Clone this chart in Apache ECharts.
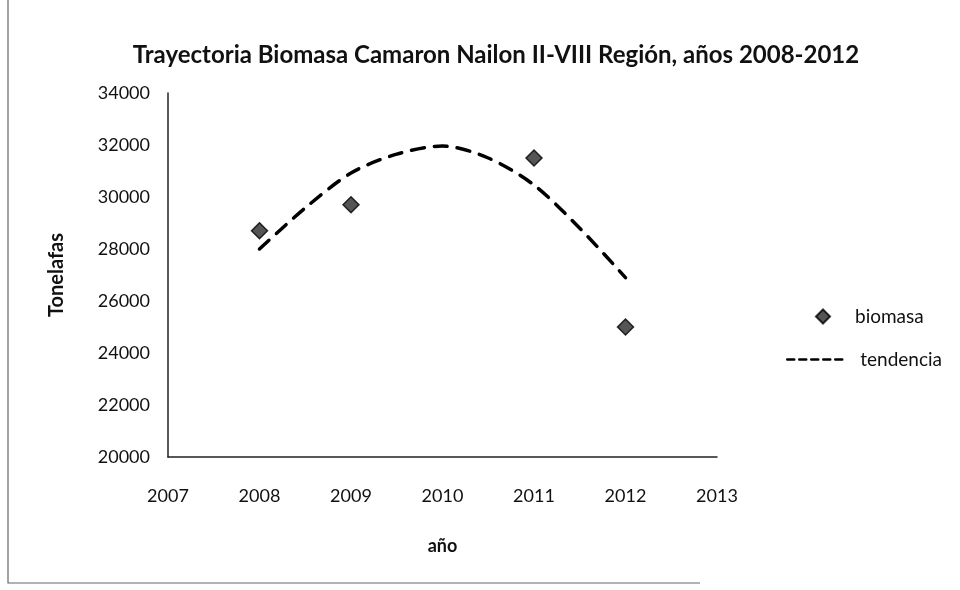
<!DOCTYPE html>
<html><head><meta charset="utf-8">
<script src="https://cdn.jsdelivr.net/npm/echarts@6/dist/echarts.min.js"></script>
<style>html,body{margin:0;padding:0;background:#fff}#c{width:960px;height:590px}</style>
</head><body><div id="c"></div>
<script>
const years = [2008, 2009, 2011, 2012];
const biomasa = [28700, 29700, 31500, 25000];
const trendYears = [2008, 2008.5, 2009, 2009.5, 2010, 2010.5, 2011, 2011.5, 2012];
const tendencia = [28000, 29580, 30920, 31650, 31960, 31500, 30460, 28800, 26900];
const yTicks = [20000, 22000, 24000, 26000, 28000, 30000, 32000, 34000];
const xTicks = [2007, 2008, 2009, 2010, 2011, 2012, 2013];

const FONT = 'Lato';
const chart = echarts.init(document.getElementById('c'));
chart.setOption({
  backgroundColor: '#fff',
  animation: false,
  title: {
    text: 'Trayectoria Biomasa Camaron Nailon II-VIII Región, años 2008-2012',
    left: 491, top: 38, textAlign: 'center',
    textStyle: {fontFamily: FONT, fontWeight: 'bold', fontSize: 24, color: '#111'}
  },
  grid: {left: 168, right: 243, top: 93, bottom: 133},
  xAxis: {
    type: 'value', min: xTicks[0], max: xTicks[xTicks.length-1], interval: 1,
    name: 'año', nameLocation: 'middle', nameGap: 80,
    nameTextStyle: {fontFamily: FONT, fontWeight: 'bold', fontSize: 18, color: '#111'},
    axisLine: {show: true, lineStyle: {color: '#222', width: 1.5}},
    axisTick: {show: false},
    splitLine: {show: false},
    axisLabel: {fontFamily: FONT, fontSize: 18, color: '#111', margin: 30, formatter: v => String(v)}
  },
  yAxis: {
    type: 'value', min: yTicks[0], max: yTicks[yTicks.length-1], interval: 2000,
    name: 'Tonelafas', nameLocation: 'middle', nameGap: 101, nameRotate: 90,
    nameTextStyle: {fontFamily: FONT, fontWeight: 'bold', fontSize: 20, color: '#111'},
    axisLine: {show: true, lineStyle: {color: '#222', width: 1.5}},
    axisTick: {show: false},
    splitLine: {show: false},
    axisLabel: {fontFamily: FONT, fontSize: 18, color: '#111', margin: 18, formatter: v => String(v)}
  },
  legend: [
    {
      orient: 'vertical', left: 810, top: 302,
      itemWidth: 14, itemHeight: 14, itemGap: 18,
      textStyle: {fontFamily: FONT, fontSize: 19, color: '#111', padding: [0, 0, 0, 20]},
      data: [{name: 'biomasa', icon: 'diamond'}]
    },
    {
      orient: 'vertical', left: 781, top: 345,
      itemWidth: 58, itemHeight: 12,
      textStyle: {fontFamily: FONT, fontSize: 19, color: '#111', padding: [0, 0, 0, 10]},
      data: [{name: 'tendencia', itemStyle: {opacity: 0}, lineStyle: {type: [7, 5], width: 2.5}}]
    }
  ],
  series: [
    {
      name: 'tendencia', type: 'line', smooth: 0.3, symbol: 'none',
      data: trendYears.map((x, i) => [x, tendencia[i]]),
      lineStyle: {color: '#000', width: 3.5, type: [13, 10], cap: 'round'},
      itemStyle: {color: '#000'}, z: 2
    },
    {
      name: 'biomasa', type: 'scatter', symbol: 'diamond', symbolSize: 16,
      data: years.map((x, i) => [x, biomasa[i]]),
      itemStyle: {color: '#2b2b2b', borderColor: '#000', borderWidth: 1.5}, z: 3
    }
  ],
  graphic: [
    {type: 'polyline', shape: {points: [[8, 0], [8, 583], [700, 583]]},
     style: {stroke: '#666', lineWidth: 1.2, fill: null}}
  ]
});
</script></body></html>
